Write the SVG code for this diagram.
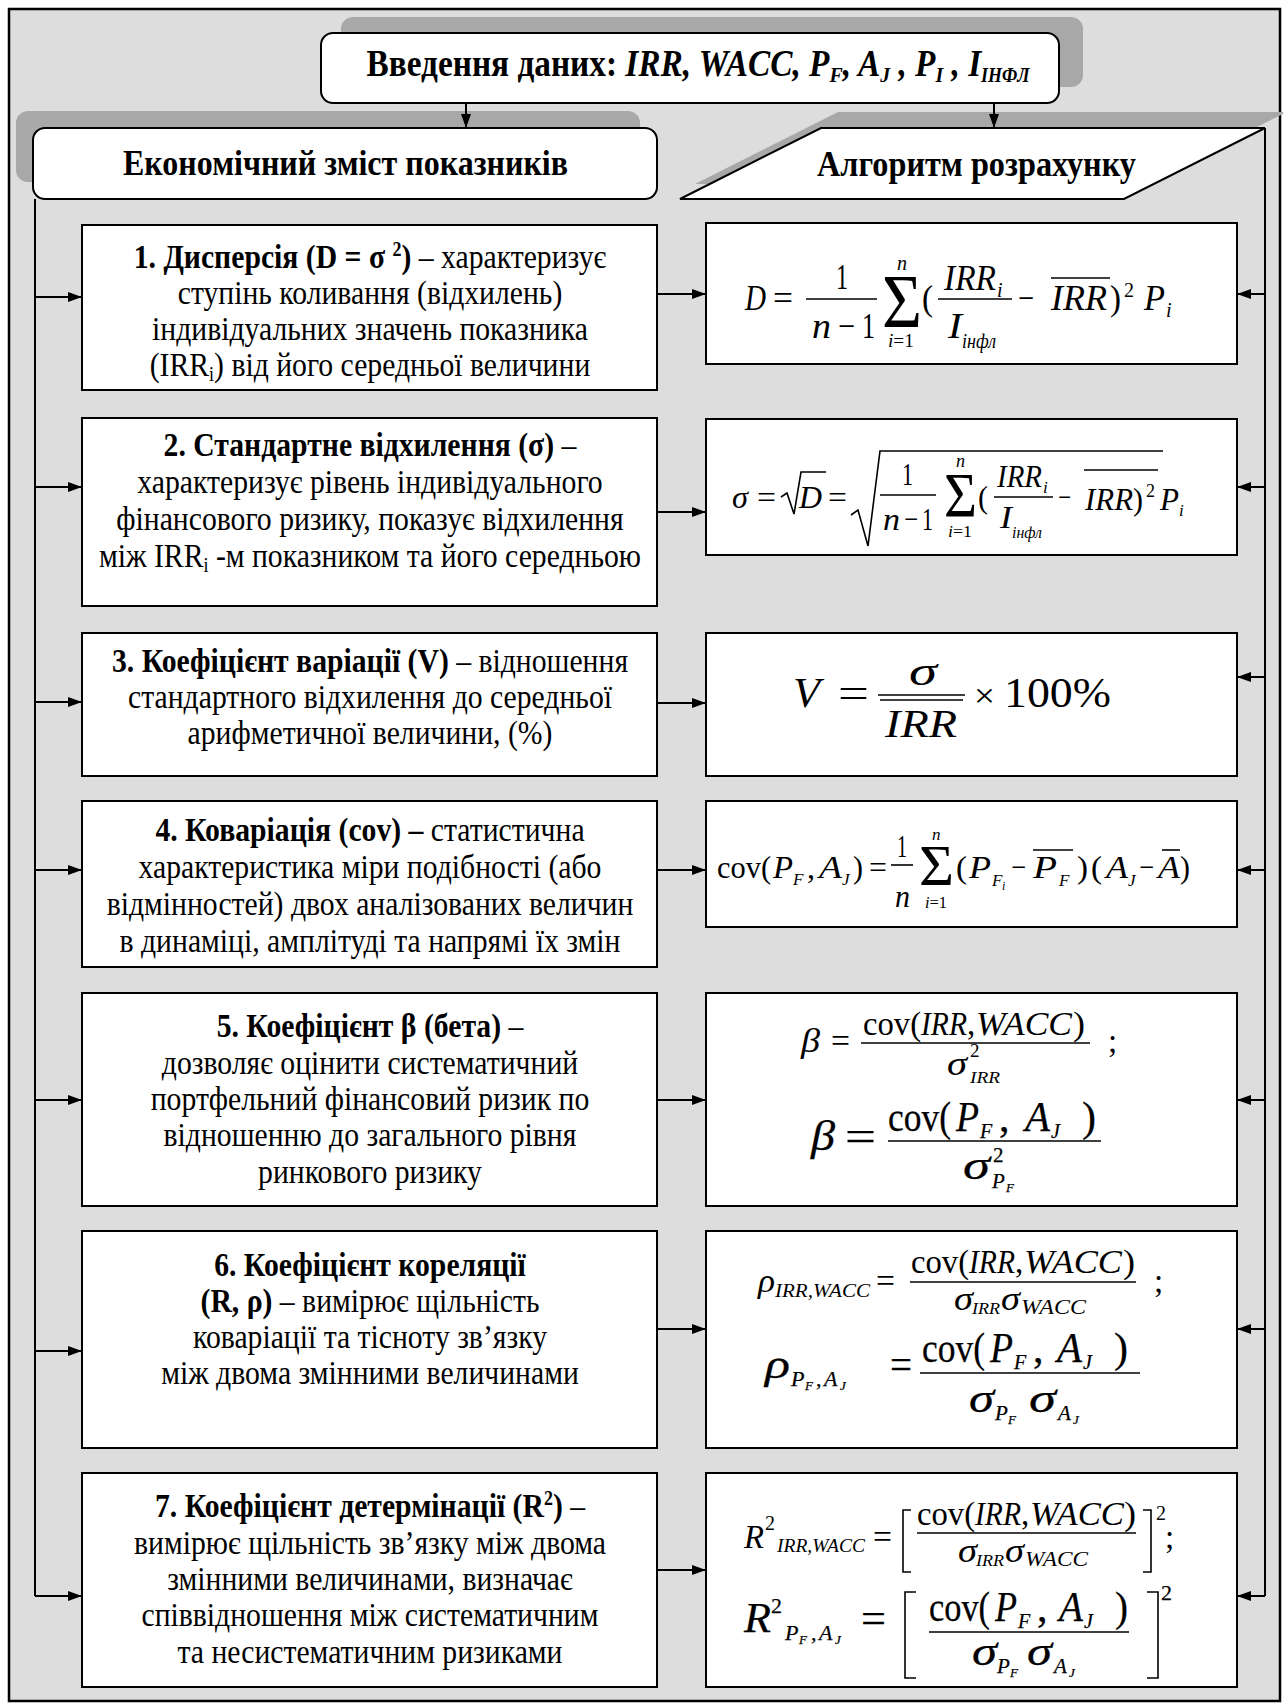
<svg xmlns="http://www.w3.org/2000/svg" width="1288" height="1707" viewBox="0 0 1288 1707">
<defs>
<style>
.t{font-family:"Liberation Serif","Times New Roman",serif;fill:#000}
.b{font-weight:bold}
.i{font-style:italic}
.box{fill:#fff;stroke:#000;stroke-width:2}
.sh{fill:#a8a8a8}
.ln{stroke:#000;stroke-width:2;fill:none}
.fb{stroke:#000;stroke-width:1.6;fill:none}
.lt{font-size:33px;text-anchor:middle}
.sqm{transform-box:fill-box;transform-origin:center;transform:scaleX(0.9)}
.hv{stroke:#000;stroke-width:0.25}
</style>
<marker id="ah" markerWidth="14" markerHeight="10" refX="14" refY="5" orient="auto" markerUnits="userSpaceOnUse">
<path d="M0,0 L14,5 L0,10 z" fill="#000"/>
</marker>
</defs>
<rect x="0" y="0" width="1288" height="1707" fill="#fff"/>
<rect x="9" y="9" width="1271" height="1692" fill="#dddddd" stroke="#000" stroke-width="2.5"/>

<rect class="sh" x="341" y="17" width="742" height="70" rx="12"/>
<rect class="sh" x="16" y="111" width="624" height="71" rx="12"/>
<polygon class="sh" points="838,112 1283,112 1283,114 1140,184 695,184"/>

<g id="connectors">
<line class="ln" x1="466" y1="103" x2="466" y2="128" marker-end="url(#ah)"/>
<line class="ln" x1="994" y1="103" x2="994" y2="128" marker-end="url(#ah)"/>
<line class="ln" x1="35" y1="199" x2="35" y2="1596"/>
<line class="ln" x1="1265" y1="128" x2="1265" y2="1596"/>
<line class="ln" x1="35" y1="297" x2="82" y2="297" marker-end="url(#ah)"/>
<line class="ln" x1="35" y1="487" x2="82" y2="487" marker-end="url(#ah)"/>
<line class="ln" x1="35" y1="702" x2="82" y2="702" marker-end="url(#ah)"/>
<line class="ln" x1="35" y1="870" x2="82" y2="870" marker-end="url(#ah)"/>
<line class="ln" x1="35" y1="1100" x2="82" y2="1100" marker-end="url(#ah)"/>
<line class="ln" x1="35" y1="1351" x2="82" y2="1351" marker-end="url(#ah)"/>
<line class="ln" x1="35" y1="1596" x2="82" y2="1596" marker-end="url(#ah)"/>
<line class="ln" x1="657" y1="294" x2="706" y2="294" marker-end="url(#ah)"/>
<line class="ln" x1="657" y1="512" x2="706" y2="512" marker-end="url(#ah)"/>
<line class="ln" x1="657" y1="703" x2="706" y2="703" marker-end="url(#ah)"/>
<line class="ln" x1="657" y1="870" x2="706" y2="870" marker-end="url(#ah)"/>
<line class="ln" x1="657" y1="1100" x2="706" y2="1100" marker-end="url(#ah)"/>
<line class="ln" x1="657" y1="1329" x2="706" y2="1329" marker-end="url(#ah)"/>
<line class="ln" x1="657" y1="1570" x2="706" y2="1570" marker-end="url(#ah)"/>
<line class="ln" x1="1265" y1="294" x2="1237" y2="294" marker-end="url(#ah)"/>
<line class="ln" x1="1265" y1="487" x2="1237" y2="487" marker-end="url(#ah)"/>
<line class="ln" x1="1265" y1="677" x2="1237" y2="677" marker-end="url(#ah)"/>
<line class="ln" x1="1265" y1="870" x2="1237" y2="870" marker-end="url(#ah)"/>
<line class="ln" x1="1265" y1="1100" x2="1237" y2="1100" marker-end="url(#ah)"/>
<line class="ln" x1="1265" y1="1329" x2="1237" y2="1329" marker-end="url(#ah)"/>
<line class="ln" x1="1265" y1="1596" x2="1237" y2="1596" marker-end="url(#ah)"/>
</g>

<g id="input">
<rect class="box" x="321" y="33" width="738" height="70" rx="12"/>
<text class="t b sqm" x="698" y="76" font-size="37" text-anchor="middle">Введення даних:  <tspan class="i">IRR, WACC, P<tspan font-size="22" dy="6">F</tspan><tspan dy="-6">, A</tspan><tspan font-size="22" dy="6">J</tspan><tspan dy="-6"> , P</tspan><tspan font-size="22" dy="6">I</tspan><tspan dy="-6"> , I</tspan><tspan font-size="20" dy="6">ІНФЛ</tspan></tspan></text>
</g>

<g id="header-left">
<rect class="box" x="33" y="128" width="624" height="71" rx="12"/>
<text class="t b" x="123" y="175" font-size="36" textLength="445" lengthAdjust="spacingAndGlyphs">Економічний зміст показників</text>
</g>

<g id="header-right">
<polygon class="box" points="821,128 1265,128 1124,199 680,199"/>
<text class="t b" x="817" y="176" font-size="36" textLength="319" lengthAdjust="spacingAndGlyphs">Алгоритм розрахунку</text>
</g>

<g id="def1">
<rect class="box" x="82" y="225" width="575" height="165"/>
<text class="t lt sqm" x="370" y="268"><tspan class="b">1. Дисперсія (D = σ <tspan font-size="20" dy="-12">2</tspan><tspan dy="12">)</tspan></tspan> – характеризує</text>
<text class="t lt sqm" x="370" y="304">ступінь коливання (відхилень)</text>
<text class="t lt sqm" x="370" y="340">індивідуальних значень показника</text>
<text class="t lt sqm" x="370" y="376">(IRR<tspan font-size="20" dy="5">i</tspan><tspan dy="-5">) від його середньої величини</tspan></text>
</g>

<g id="def2">
<rect class="box" x="82" y="418" width="575" height="188"/>
<text class="t lt sqm" x="370" y="456"><tspan class="b">2. Стандартне відхилення (σ)</tspan> –</text>
<text class="t lt sqm" x="370" y="493">характеризує рівень індивідуального</text>
<text class="t lt sqm" x="370" y="530">фінансового ризику, показує відхилення</text>
<text class="t lt sqm" x="370" y="567">між IRR<tspan font-size="20" dy="5">i</tspan><tspan dy="-5"> -м показником та його середньою</tspan></text>
</g>

<g id="def3">
<rect class="box" x="82" y="633" width="575" height="143"/>
<text class="t lt sqm" x="370" y="672"><tspan class="b">3. Коефіцієнт варіації (V)</tspan> –  відношення</text>
<text class="t lt sqm" x="370" y="708">стандартного відхилення до середньої</text>
<text class="t lt sqm" x="370" y="744">арифметичної величини, (%)</text>
</g>

<g id="def4">
<rect class="box" x="82" y="801" width="575" height="166"/>
<text class="t lt sqm" x="370" y="841"><tspan class="b">4. Коваріація (cov) –</tspan> статистична</text>
<text class="t lt sqm" x="370" y="878">характеристика міри подібності (або</text>
<text class="t lt sqm" x="370" y="915">відмінностей) двох аналізованих величин</text>
<text class="t lt sqm" x="370" y="952">в динаміці, амплітуді та напрямі їх змін</text>
</g>

<g id="def5">
<rect class="box" x="82" y="993" width="575" height="213"/>
<text class="t lt sqm" x="370" y="1037"><tspan class="b">5. Коефіцієнт β (бета)</tspan> –</text>
<text class="t lt sqm" x="370" y="1074">дозволяє оцінити систематичний</text>
<text class="t lt sqm" x="370" y="1110">портфельний фінансовий ризик по</text>
<text class="t lt sqm" x="370" y="1146">відношенню до загального рівня</text>
<text class="t lt sqm" x="370" y="1183">ринкового ризику</text>
</g>

<g id="def6">
<rect class="box" x="82" y="1231" width="575" height="217"/>
<text class="t lt sqm b" x="370" y="1276">6. Коефіцієнт кореляції</text>
<text class="t lt sqm" x="370" y="1312"><tspan class="b">(R, ρ)</tspan> –  вимірює щільність</text>
<text class="t lt sqm" x="370" y="1348">коваріації  та тісноту зв’язку</text>
<text class="t lt sqm" x="370" y="1384">між двома змінними величинами</text>
</g>

<g id="def7">
<rect class="box" x="82" y="1473" width="575" height="214"/>
<text class="t lt sqm" x="370" y="1517"><tspan class="b">7. Коефіцієнт детермінації (R<tspan font-size="20" dy="-12">2</tspan><tspan dy="12">)</tspan></tspan> –</text>
<text class="t lt sqm" x="370" y="1554">вимірює щільність зв’язку між двома</text>
<text class="t lt sqm" x="370" y="1590">змінними величинами, визначає</text>
<text class="t lt sqm" x="370" y="1626">співвідношення між систематичним</text>
<text class="t lt sqm" x="370" y="1663">та несистематичним ризиками</text>
</g>

<g id="formula1">
<rect class="box" x="706" y="223" width="531" height="141"/>
<g class="t" font-size="36">
<text class="i" x="745" y="310" textLength="21" lengthAdjust="spacingAndGlyphs">D</text>
<text x="773" y="310" textLength="20" lengthAdjust="spacingAndGlyphs">=</text>
<text x="836" y="289" textLength="12" lengthAdjust="spacingAndGlyphs">1</text>
<text class="i" x="812" y="338" textLength="19" lengthAdjust="spacingAndGlyphs">n</text>
<text x="838" y="338" textLength="17" lengthAdjust="spacingAndGlyphs">−</text>
<text x="862" y="338" textLength="13" lengthAdjust="spacingAndGlyphs">1</text>
<text x="882" y="327" font-size="76" textLength="40" lengthAdjust="spacingAndGlyphs">Σ</text>
<text class="i" x="897" y="270" font-size="20">n</text>
<text x="888" y="347" font-size="19" textLength="26" lengthAdjust="spacingAndGlyphs"><tspan class="i">i</tspan>=1</text>
<text x="922" y="310" textLength="11" lengthAdjust="spacingAndGlyphs">(</text>
<text class="i" x="944" y="290" textLength="52" lengthAdjust="spacingAndGlyphs">IRR</text>
<text class="i" x="997" y="297" font-size="20">i</text>
<text class="i" x="948" y="338" textLength="14" lengthAdjust="spacingAndGlyphs">I</text>
<text class="i" x="962" y="348" font-size="20" textLength="34" lengthAdjust="spacingAndGlyphs">інфл</text>
<text x="1018" y="310" textLength="16" lengthAdjust="spacingAndGlyphs">−</text>
<text class="i" x="1051" y="310" textLength="56" lengthAdjust="spacingAndGlyphs">IRR</text>
<text x="1110" y="310" textLength="11" lengthAdjust="spacingAndGlyphs">)</text>
<text x="1124" y="297" font-size="20">2</text>
<text class="i" x="1144" y="310" textLength="21" lengthAdjust="spacingAndGlyphs">P</text>
<text class="i" x="1166" y="317" font-size="20">i</text>
</g>
<line class="fb" x1="806" y1="299" x2="877" y2="299"/>
<line class="fb" x1="938" y1="299" x2="1012" y2="299"/>
<line class="fb" x1="1051" y1="278" x2="1110" y2="278"/>
</g>

<g id="formula2">
<rect class="box" x="706" y="419" width="531" height="136"/>
<g class="t" font-size="32">
<text class="i" x="732" y="508" textLength="16" lengthAdjust="spacingAndGlyphs">σ</text>
<text x="757" y="508" textLength="19" lengthAdjust="spacingAndGlyphs">=</text>
<text class="i" x="799" y="508" textLength="23" lengthAdjust="spacingAndGlyphs">D</text>
<text x="828" y="508" textLength="19" lengthAdjust="spacingAndGlyphs">=</text>
<text x="902" y="485" textLength="11" lengthAdjust="spacingAndGlyphs">1</text>
<text class="i" x="883" y="530" textLength="17" lengthAdjust="spacingAndGlyphs">n</text>
<text x="904" y="530" textLength="14" lengthAdjust="spacingAndGlyphs">−</text>
<text x="922" y="530" textLength="11" lengthAdjust="spacingAndGlyphs">1</text>
<text x="944" y="517" font-size="64" textLength="33" lengthAdjust="spacingAndGlyphs">Σ</text>
<text class="i" x="956" y="467" font-size="18">n</text>
<text x="948" y="537" font-size="17" textLength="24" lengthAdjust="spacingAndGlyphs"><tspan class="i">i</tspan>=1</text>
<text x="978" y="508" textLength="10" lengthAdjust="spacingAndGlyphs">(</text>
<text class="i" x="997" y="487" textLength="45" lengthAdjust="spacingAndGlyphs">IRR</text>
<text class="i" x="1043" y="493" font-size="17">i</text>
<text class="i" x="1000" y="528" textLength="12" lengthAdjust="spacingAndGlyphs">I</text>
<text class="i" x="1012" y="538" font-size="17" textLength="30" lengthAdjust="spacingAndGlyphs">інфл</text>
<text x="1058" y="508" textLength="13" lengthAdjust="spacingAndGlyphs">−</text>
<text class="i" x="1085" y="510" textLength="48" lengthAdjust="spacingAndGlyphs">IRR</text>
<text x="1133" y="510" textLength="10" lengthAdjust="spacingAndGlyphs">)</text>
<text x="1146" y="497" font-size="18">2</text>
<text class="i" x="1160" y="510" textLength="19" lengthAdjust="spacingAndGlyphs">P</text>
<text class="i" x="1179" y="516" font-size="17">i</text>
</g>
<path class="fb" d="M781,497 L787,493 L794,514 L801,472 L826,472"/>
<path class="fb" d="M851,515 L858,510 L868,546 L880,451 L1163,451"/>
<line class="fb" x1="880" y1="495" x2="936" y2="495"/>
<line class="fb" x1="994" y1="497" x2="1053" y2="497"/>
<line class="fb" x1="1084" y1="470" x2="1158" y2="470"/>
</g>

<g id="formula3">
<rect class="box" x="706" y="633" width="531" height="143"/>
<g class="t">
<text class="i" x="793" y="707" font-size="42" textLength="27" lengthAdjust="spacingAndGlyphs">V</text>
<text x="838" y="707" font-size="42" textLength="31" lengthAdjust="spacingAndGlyphs">=</text>
<text class="i" x="909" y="685" font-size="40" textLength="28" lengthAdjust="spacingAndGlyphs">σ</text>
<text class="i" x="885" y="737" font-size="40" textLength="72" lengthAdjust="spacingAndGlyphs">IRR</text>
<text x="974" y="707" font-size="34" textLength="21" lengthAdjust="spacingAndGlyphs">×</text>
<text x="1004" y="707" font-size="42" textLength="107" lengthAdjust="spacingAndGlyphs">100%</text>
</g>
<line class="fb" x1="878" y1="695" x2="965" y2="695"/>
<line class="fb" x1="880" y1="700" x2="963" y2="700"/>
</g>

<g id="formula4">
<rect class="box" x="706" y="801" width="531" height="126"/>
<g class="t" font-size="32">
<text x="717" y="878" textLength="54" lengthAdjust="spacingAndGlyphs">cov(</text>
<text class="i" x="773" y="878" textLength="20" lengthAdjust="spacingAndGlyphs">P</text>
<text class="i" x="793" y="885" font-size="17">F</text>
<text x="807" y="878">,</text>
<text class="i" x="819" y="878" textLength="23" lengthAdjust="spacingAndGlyphs">A</text>
<text class="i" x="842" y="885" font-size="17">J</text>
<text x="853" y="878" textLength="10" lengthAdjust="spacingAndGlyphs">)</text>
<text x="869" y="878" textLength="18" lengthAdjust="spacingAndGlyphs">=</text>
<text x="897" y="857" textLength="10" lengthAdjust="spacingAndGlyphs">1</text>
<text class="i" x="895" y="907" textLength="15" lengthAdjust="spacingAndGlyphs">n</text>
<text x="919" y="885" font-size="56" textLength="35" lengthAdjust="spacingAndGlyphs">Σ</text>
<text class="i" x="932" y="840" font-size="17">n</text>
<text x="925" y="908" font-size="16" textLength="22" lengthAdjust="spacingAndGlyphs"><tspan class="i">i</tspan>=1</text>
<text x="956" y="878" textLength="11" lengthAdjust="spacingAndGlyphs">(</text>
<text class="i" x="969" y="878" textLength="22" lengthAdjust="spacingAndGlyphs">P</text>
<text class="i" x="992" y="886" font-size="17">F</text>
<text class="i" x="1002" y="890" font-size="12">i</text>
<text x="1011" y="878" textLength="15" lengthAdjust="spacingAndGlyphs">−</text>
<text class="i" x="1033" y="878" textLength="24" lengthAdjust="spacingAndGlyphs">P</text>
<text class="i" x="1059" y="886" font-size="17">F</text>
<text x="1077" y="878" textLength="11" lengthAdjust="spacingAndGlyphs">)</text>
<text x="1091" y="878" textLength="11" lengthAdjust="spacingAndGlyphs">(</text>
<text class="i" x="1106" y="878" textLength="22" lengthAdjust="spacingAndGlyphs">A</text>
<text class="i" x="1128" y="886" font-size="17">J</text>
<text x="1139" y="878" textLength="15" lengthAdjust="spacingAndGlyphs">−</text>
<text class="i" x="1158" y="878" textLength="22" lengthAdjust="spacingAndGlyphs">A</text>
<text x="1180" y="878" textLength="10" lengthAdjust="spacingAndGlyphs">)</text>
</g>
<line class="fb" x1="891" y1="865" x2="913" y2="865"/>
<line class="fb" x1="1033" y1="850" x2="1073" y2="850"/>
<line class="fb" x1="1162" y1="850" x2="1180" y2="850"/>
</g>

<g id="formula5">
<rect class="box" x="706" y="993" width="531" height="213"/>
<g class="t" font-size="33">
<text class="i" x="801" y="1052" textLength="19" lengthAdjust="spacingAndGlyphs">β</text>
<text x="831" y="1052" textLength="19" lengthAdjust="spacingAndGlyphs">=</text>
<text x="863" y="1035" textLength="58" lengthAdjust="spacingAndGlyphs">cov(</text>
<text class="i" x="921" y="1035" textLength="46" lengthAdjust="spacingAndGlyphs">IRR</text>
<text x="967" y="1035">,</text>
<text class="i" x="976" y="1035" textLength="96" lengthAdjust="spacingAndGlyphs">WACC</text>
<text x="1073" y="1035" textLength="12" lengthAdjust="spacingAndGlyphs">)</text>
<text class="i" x="947" y="1075" textLength="20" lengthAdjust="spacingAndGlyphs">σ</text>
<text x="970" y="1057" font-size="19">2</text>
<text class="i" x="970" y="1083" font-size="17" textLength="30" lengthAdjust="spacingAndGlyphs">IRR</text>
<text x="1108" y="1052">;</text>
</g>
<g class="t hv" font-size="42">
<text class="i" x="811" y="1150" textLength="24" lengthAdjust="spacingAndGlyphs">β</text>
<text x="845" y="1150" textLength="31" lengthAdjust="spacingAndGlyphs">=</text>
<text x="888" y="1131" textLength="63" lengthAdjust="spacingAndGlyphs">cov(</text>
<text class="i" x="956" y="1131" textLength="23" lengthAdjust="spacingAndGlyphs">P</text>
<text class="i" x="980" y="1138" font-size="20">F</text>
<text x="999" y="1131">,</text>
<text class="i" x="1025" y="1131" textLength="25" lengthAdjust="spacingAndGlyphs">A</text>
<text class="i" x="1051" y="1138" font-size="20">J</text>
<text x="1082" y="1131" textLength="14" lengthAdjust="spacingAndGlyphs">)</text>
<text class="i" x="963" y="1179" textLength="27" lengthAdjust="spacingAndGlyphs">σ</text>
<text x="993" y="1162" font-size="21">2</text>
<text class="i" x="992" y="1188" font-size="21">P</text>
<text class="i" x="1006" y="1192" font-size="13">F</text>
</g>
<line class="fb" x1="861" y1="1043" x2="1090" y2="1043"/>
<line class="fb" x1="888" y1="1141" x2="1101" y2="1141"/>
</g>

<g id="formula6">
<rect class="box" x="706" y="1231" width="531" height="217"/>
<g class="t" font-size="33">
<text class="i" x="758" y="1292" textLength="17" lengthAdjust="spacingAndGlyphs">ρ</text>
<text class="i" x="775" y="1297" font-size="19" textLength="95" lengthAdjust="spacingAndGlyphs">IRR,WACC</text>
<text x="876" y="1292" textLength="19" lengthAdjust="spacingAndGlyphs">=</text>
<text x="911" y="1273" textLength="58" lengthAdjust="spacingAndGlyphs">cov(</text>
<text class="i" x="969" y="1273" textLength="46" lengthAdjust="spacingAndGlyphs">IRR</text>
<text x="1015" y="1273">,</text>
<text class="i" x="1024" y="1273" textLength="98" lengthAdjust="spacingAndGlyphs">WACC</text>
<text x="1123" y="1273" textLength="12" lengthAdjust="spacingAndGlyphs">)</text>
<text class="i" x="954" y="1310" textLength="19" lengthAdjust="spacingAndGlyphs">σ</text>
<text class="i" x="972" y="1314" font-size="16" textLength="28" lengthAdjust="spacingAndGlyphs">IRR</text>
<text class="i" x="1001" y="1310" textLength="19" lengthAdjust="spacingAndGlyphs">σ</text>
<text class="i" x="1021" y="1314" font-size="20" textLength="65" lengthAdjust="spacingAndGlyphs">WACC</text>
<text x="1154" y="1292">;</text>
</g>
<g class="t hv" font-size="42">
<text class="i" x="765" y="1378" textLength="25" lengthAdjust="spacingAndGlyphs">ρ</text>
<text class="i" x="791" y="1386" font-size="22">P</text>
<text class="i" x="805" y="1390" font-size="13">F</text>
<text x="816" y="1386" font-size="22">,</text>
<text class="i" x="824" y="1386" font-size="22">A</text>
<text class="i" x="840" y="1390" font-size="13">J</text>
<text x="890" y="1378" textLength="22" lengthAdjust="spacingAndGlyphs">=</text>
<text x="922" y="1362" textLength="63" lengthAdjust="spacingAndGlyphs">cov(</text>
<text class="i" x="990" y="1362" textLength="23" lengthAdjust="spacingAndGlyphs">P</text>
<text class="i" x="1014" y="1369" font-size="20">F</text>
<text x="1033" y="1362">,</text>
<text class="i" x="1057" y="1362" textLength="25" lengthAdjust="spacingAndGlyphs">A</text>
<text class="i" x="1083" y="1369" font-size="20">J</text>
<text x="1114" y="1362" textLength="14" lengthAdjust="spacingAndGlyphs">)</text>
<text class="i" x="969" y="1412" textLength="25" lengthAdjust="spacingAndGlyphs">σ</text>
<text class="i" x="995" y="1420" font-size="21">P</text>
<text class="i" x="1008" y="1424" font-size="13">F</text>
<text class="i" x="1029" y="1412" textLength="27" lengthAdjust="spacingAndGlyphs">σ</text>
<text class="i" x="1058" y="1420" font-size="21">A</text>
<text class="i" x="1073" y="1424" font-size="13">J</text>
</g>
<line class="fb" x1="910" y1="1282" x2="1136" y2="1282"/>
<line class="fb" x1="920" y1="1373" x2="1140" y2="1373"/>
</g>

<g id="formula7">
<rect class="box" x="706" y="1473" width="531" height="214"/>
<g class="t" font-size="33">
<text class="i" x="744" y="1548" textLength="20" lengthAdjust="spacingAndGlyphs">R</text>
<text x="765" y="1530" font-size="20">2</text>
<text class="i" x="777" y="1552" font-size="19" textLength="88" lengthAdjust="spacingAndGlyphs">IRR,WACC</text>
<text x="873" y="1548" textLength="19" lengthAdjust="spacingAndGlyphs">=</text>
<text x="917" y="1525" textLength="58" lengthAdjust="spacingAndGlyphs">cov(</text>
<text class="i" x="975" y="1525" textLength="46" lengthAdjust="spacingAndGlyphs">IRR</text>
<text x="1021" y="1525">,</text>
<text class="i" x="1030" y="1525" textLength="94" lengthAdjust="spacingAndGlyphs">WACC</text>
<text x="1124" y="1525" textLength="12" lengthAdjust="spacingAndGlyphs">)</text>
<text class="i" x="958" y="1562" textLength="19" lengthAdjust="spacingAndGlyphs">σ</text>
<text class="i" x="976" y="1566" font-size="16" textLength="28" lengthAdjust="spacingAndGlyphs">IRR</text>
<text class="i" x="1005" y="1562" textLength="19" lengthAdjust="spacingAndGlyphs">σ</text>
<text class="i" x="1025" y="1566" font-size="20" textLength="63" lengthAdjust="spacingAndGlyphs">WACC</text>
<text x="1156" y="1520" font-size="20">2</text>
<text x="1165" y="1548">;</text>
</g>
<g class="t hv" font-size="42">
<text class="i" x="744" y="1632" textLength="27" lengthAdjust="spacingAndGlyphs">R</text>
<text x="771" y="1613" font-size="22">2</text>
<text class="i" x="785" y="1640" font-size="22">P</text>
<text class="i" x="799" y="1644" font-size="13">F</text>
<text x="811" y="1640" font-size="22">,</text>
<text class="i" x="819" y="1640" font-size="22">A</text>
<text class="i" x="835" y="1644" font-size="13">J</text>
<text x="861" y="1632" textLength="25" lengthAdjust="spacingAndGlyphs">=</text>
<text x="929" y="1621" textLength="61" lengthAdjust="spacingAndGlyphs">cov(</text>
<text class="i" x="995" y="1621" textLength="22" lengthAdjust="spacingAndGlyphs">P</text>
<text class="i" x="1018" y="1628" font-size="20">F</text>
<text x="1037" y="1621">,</text>
<text class="i" x="1059" y="1621" textLength="24" lengthAdjust="spacingAndGlyphs">A</text>
<text class="i" x="1084" y="1628" font-size="20">J</text>
<text x="1115" y="1621" textLength="13" lengthAdjust="spacingAndGlyphs">)</text>
<text class="i" x="972" y="1665" textLength="25" lengthAdjust="spacingAndGlyphs">σ</text>
<text class="i" x="997" y="1673" font-size="21">P</text>
<text class="i" x="1010" y="1677" font-size="13">F</text>
<text class="i" x="1027" y="1665" textLength="25" lengthAdjust="spacingAndGlyphs">σ</text>
<text class="i" x="1054" y="1673" font-size="21">A</text>
<text class="i" x="1069" y="1677" font-size="13">J</text>
<text x="1161" y="1600" font-size="22">2</text>
</g>
<path class="fb" d="M911,1510 L903,1510 L903,1572 L911,1572"/>
<path class="fb" d="M1143,1510 L1151,1510 L1151,1572 L1143,1572"/>
<line class="fb" x1="917" y1="1533" x2="1136" y2="1533"/>
<path class="fb" d="M916,1592 L905,1592 L905,1678 L916,1678"/>
<path class="fb" d="M1147,1592 L1158,1592 L1158,1678 L1147,1678"/>
<line class="fb" x1="929" y1="1632" x2="1129" y2="1632"/>
</g>
</svg>
